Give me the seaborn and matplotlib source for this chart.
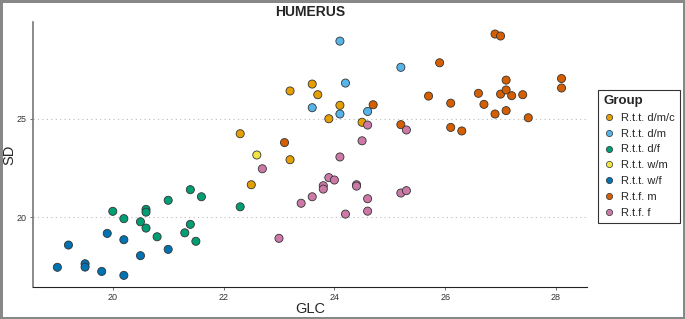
import matplotlib
matplotlib.use("Agg")
import matplotlib.pyplot as plt
import numpy as np
import pandas as pd
import seaborn as sns

# values, per group
dmc_glc = [23.2, 23.6, 23.7, 24.1, 23.9, 22.3, 24.5, 23.2, 22.5]
dmc_sd = [26.40, 26.75, 26.21, 25.67, 24.99, 24.23, 24.81, 22.91, 21.64]

dm_glc = [24.1, 23.6, 24.1, 24.2, 24.6, 25.2]
dm_sd = [28.93, 25.55, 25.23, 26.80, 25.36, 27.60]

df_glc = [20.0, 20.2, 20.5, 20.6, 20.6, 20.6, 20.8, 21.0, 21.3, 21.4, 21.4, 21.5, 21.6, 22.3]
df_sd = [20.29, 19.92, 19.76, 20.39, 20.25, 19.44, 19.00, 20.85, 19.20, 21.39, 19.63, 18.77, 21.03, 20.52]

wm_glc = [22.6]
wm_sd = [23.15]

wf_glc = [19.0, 19.2, 19.5, 19.5, 19.8, 19.9, 20.2, 20.2, 20.5, 21.0]
wf_sd = [17.45, 18.58, 17.63, 17.46, 17.24, 19.17, 18.85, 17.04, 18.04, 18.36]

tfm_glc = [23.1, 24.7, 25.2, 25.9, 25.7, 26.1, 26.1, 26.3, 26.6, 26.7, 26.9,
           27.0, 26.9, 27.0, 27.1, 27.1, 27.1, 27.2, 27.4, 27.5, 28.1, 28.1]
tfm_sd = [23.78, 25.70, 24.69, 27.83, 26.14, 25.78, 24.55, 24.37, 26.28, 25.72, 29.29,
          29.19, 25.23, 26.24, 26.95, 26.45, 25.40, 26.16, 26.21, 25.04, 27.03, 26.55]

tff_glc = [22.7, 23.0, 23.4, 23.6, 23.8, 23.8, 23.9, 24.0, 24.1, 24.2, 24.4, 24.4,
           24.6, 24.6, 25.2, 25.3, 24.6, 24.5, 25.3]
tff_sd = [22.45, 18.92, 20.70, 21.03, 21.59, 21.42, 22.00, 21.88, 23.05, 20.15, 21.64, 21.57,
          20.93, 20.30, 21.22, 21.34, 24.67, 23.87, 24.42]

groups = ["R.t.t. d/m/c", "R.t.t. d/m", "R.t.t. d/f", "R.t.t. w/m", "R.t.t. w/f", "R.t.f. m", "R.t.f. f"]
palette = ["#E69F00", "#56B4E9", "#009E73", "#F0E442", "#0072B2", "#D55E00", "#CC79A7"]

glc_all = [dmc_glc, dm_glc, df_glc, wm_glc, wf_glc, tfm_glc, tff_glc]
sd_all = [dmc_sd, dm_sd, df_sd, wm_sd, wf_sd, tfm_sd, tff_sd]

data = pd.concat([pd.DataFrame({"GLC": g, "SD": s, "Group": name})
                  for g, s, name in zip(glc_all, sd_all, groups)], ignore_index=True)

sns.set_theme(style="white")
plt.rcParams["font.family"] = ["Liberation Sans", "DejaVu Sans"]

fig = plt.figure(figsize=(6.85, 3.19), dpi=100)
fig.patch.set_edgecolor("#888888")
fig.patch.set_linewidth(2.5)
ax = fig.add_axes([33 / 685, 1 - 287 / 319, (587 - 33) / 685, (287 - 22) / 319])

g = sns.scatterplot(data=data, x="GLC", y="SD", hue="Group", hue_order=groups,
                    palette=palette, s=34, edgecolor="#333333", linewidth=0.6,
                    ax=ax, zorder=3)

ax.set_xlim(18.56, 28.56)
ax.set_ylim(16.45, 29.9)
ax.set_xticks([20, 22, 24, 26, 28])
ax.set_yticks([20, 25])
ax.tick_params(axis="both", labelsize=6.5, length=2.5, width=0.6, pad=2,
               colors="#555555", labelcolor="#333333")
ax.tick_params(bottom=True, left=True)
ax.yaxis.grid(True, linestyle=(0, (1, 3)), color="#bbbbbb", linewidth=0.8)
ax.set_axisbelow(True)
for side in ["top", "right"]:
    ax.spines[side].set_visible(False)
ax.spines["left"].set_color("#777777")
ax.spines["left"].set_linewidth(1.2)
ax.spines["bottom"].set_color("#222222")
ax.spines["bottom"].set_linewidth(0.8)

ax.set_xlabel("GLC", fontsize=10.5, labelpad=0)
ax.set_ylabel("SD", fontsize=10.5, labelpad=0)
ax.set_title("HUMERUS", fontsize=10, fontweight="bold", pad=4)

ax.get_legend().remove()
handles = [plt.Line2D([], [], marker="o", linestyle="", markersize=4.5,
                      markerfacecolor=c, markeredgecolor="#333333", markeredgewidth=0.5)
           for c in palette]
leg = fig.legend(handles, groups, title="Group", loc="upper left",
                 bbox_to_anchor=(592 / 685, 1 - 84 / 319), fontsize=8,
                 title_fontproperties={"weight": "bold", "size": 9.5},
                 frameon=True, fancybox=False, edgecolor="black",
                 handletextpad=0.6, labelspacing=0.52, borderpad=0.5, handlelength=1.0)
leg.get_frame().set_linewidth(0.8)
leg._legend_box.align = "left"

fig.savefig("out.png", dpi=100)
